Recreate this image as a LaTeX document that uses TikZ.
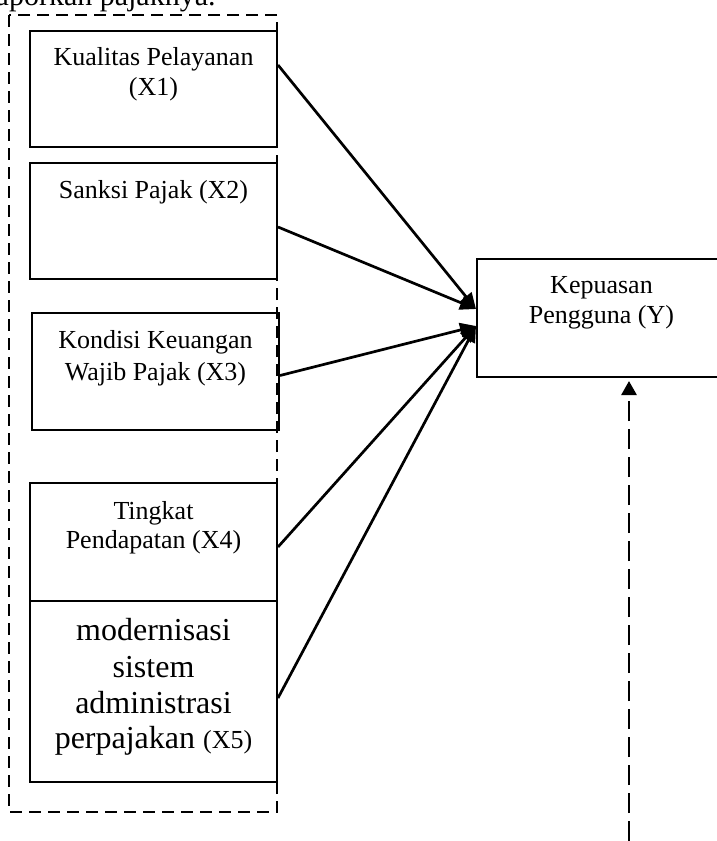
\documentclass[tikz,border=0pt]{standalone}
\usepackage{fontspec}
\setmainfont{Liberation Serif}
\usetikzlibrary{arrows.meta}
\begin{document}
\begin{tikzpicture}[x=0.5pt,y=-0.5pt,
  box/.style={draw, line width=1pt, inner sep=0pt},
  txt/.style={font=\fontsize{13}{15}\selectfont, inner sep=0pt, anchor=base},
  big/.style={font=\fontsize{16}{18}\selectfont, inner sep=0pt, anchor=base},
  arr/.style={line width=1.35pt, -{Triangle[length=8pt,width=7pt]}},
  darr/.style={line width=1.35pt, dash pattern=on 10pt off 4pt, -{Triangle[length=7pt,width=7.5pt]}},
  group/.style={draw, line width=1.1pt, dash pattern=on 6pt off 3.5pt},
]
\useasboundingbox (0,0) rectangle (717,841);
\clip (0,0) rectangle (717,841);

% top cut-off text
\node[font=\fontsize{15}{18}\selectfont, inner sep=0pt, anchor=base east] (top) at (216,5) {laporkan pajaknya.};

% dashed group frame
\draw[group] (9,15) rectangle (277,812);

% boxes
\node[box, minimum width=123.5pt, minimum height=58pt] (x1) at (153.5,89) {};
\node[box, minimum width=123.5pt, minimum height=58pt] (x2) at (153.5,221) {};
\node[box, minimum width=123.5pt, minimum height=58.5pt] (x3) at (155.5,371.5) {};
\node[box, minimum width=123.5pt, minimum height=59pt] (x4) at (153.5,542) {};
\node[box, minimum width=123.5pt, minimum height=90.5pt] (x5) at (153.5,691.5) {};
\node[box, minimum width=124.5pt, minimum height=59pt] (k) at (601.5,318) {};

% texts
\node[txt] (t1a) at (153.5,65) {Kualitas Pelayanan};
\node[txt] (t1b) at (153.5,95) {(X1)};
\node[txt] (t2a) at (153.5,198) {Sanksi Pajak (X2)};
\node[txt] (t3a) at (155.5,348) {Kondisi Keuangan};
\node[txt] (t3b) at (155.5,380) {Wajib Pajak (X3)};
\node[txt] (t4a) at (153.5,519) {Tingkat};
\node[txt] (t4b) at (153.5,548) {Pendapatan (X4)};
\node[big] (t5a) at (153.5,640) {modernisasi};
\node[big] (t5b) at (153.5,677) {sistem};
\node[big] (t5c) at (153.5,713) {administrasi};
\node[big] (t5d) at (153.5,748) {perpajakan {\fontsize{13}{15}\selectfont(X5)}};
\node[txt] (tka) at (601.5,293) {Kepuasan};
\node[txt] (tkb) at (601.5,323) {Pengguna (Y)};

% connectors
\draw[arr] ([yshift=12pt]x1.east) -- ([yshift=4.5pt]k.west);
\draw[arr] ([yshift=-3pt]x2.east) -- ([yshift=4.5pt]k.west);
\draw[arr] ([yshift=-2pt]x3.east) -- ([yshift=-4pt]k.west);
\draw[arr] ([yshift=-2.5pt]x4.east) -- ([yshift=-4pt]k.west);
\draw[arr] ([yshift=-3.25pt]x5.east) -- ([yshift=-4pt]k.west);

\coordinate (ybot) at (629,841);
\draw[darr, shorten >=1.5pt] (ybot) -- (ybot |- k.south);
\end{tikzpicture}
\end{document}
